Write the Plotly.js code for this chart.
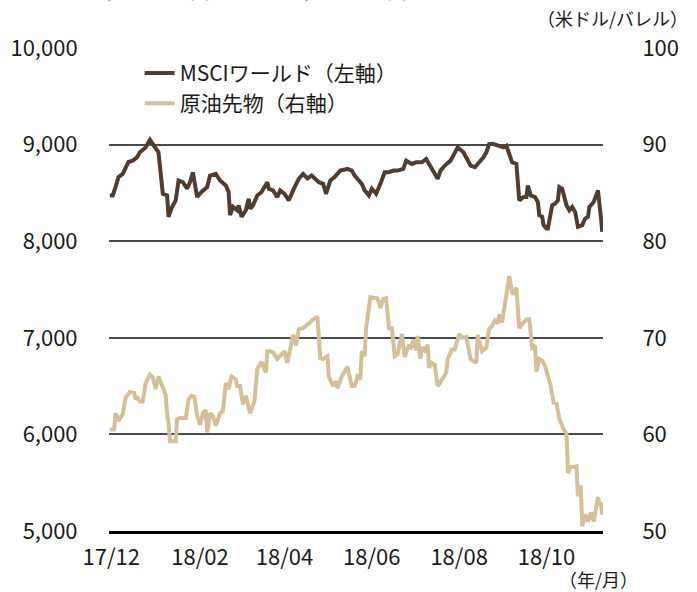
<!DOCTYPE html>
<html>
<head>
<meta charset="utf-8">
<script src="https://cdn.plot.ly/plotly-3.0.1.min.js"></script>
<style>html,body{margin:0;padding:0;background:#fff;}#chart{width:697px;height:592px;}</style>
</head>
<body>
<div id="chart"></div>
<script>
// Day offsets from 2017-12-01
const msciDay = [-1,1,3,5,8,12,15,18,20,24,27,30,33,36,39,40,42,45,47,50,53,55,57,60,63,67,69,73,76,80,82,83,85,88,89,91,94,96,97,99,102,105,109,110,113,116,118,121,124,127,131,134,137,140,145,148,150,153,156,160,165,168,170,173,175,177,180,182,185,188,191,194,197,200,204,206,210,213,217,220,224,228,230,233,237,240,242,246,248,251,254,258,260,262,264,267,270,274,276,278,280,283,285,288,290,291,293,296,298,299,301,302,304,305,308,310,312,313,315,318,320,322,324,326,329,331,333,334,337,340,341,342,343];
const msciVal = [8474,8474,8560,8663,8697,8820,8834,8868,8920,8971,9050,8988,8920,8491,8474,8252,8337,8422,8628,8611,8543,8611,8714,8457,8509,8560,8680,8697,8628,8577,8509,8269,8355,8320,8371,8252,8320,8440,8337,8371,8474,8509,8611,8543,8526,8457,8526,8491,8422,8526,8646,8697,8651,8680,8611,8594,8491,8628,8663,8731,8748,8731,8680,8628,8594,8526,8474,8543,8491,8594,8714,8714,8731,8731,8748,8834,8800,8817,8817,8851,8748,8646,8731,8783,8834,8920,8971,8920,8868,8783,8766,8834,8868,8920,9005,9005,8988,8971,8988,8902,8817,8800,8422,8457,8457,8577,8474,8457,8406,8269,8252,8166,8131,8131,8371,8388,8422,8560,8543,8371,8320,8355,8303,8149,8166,8234,8252,8355,8406,8526,8320,8252,8097];

const oilDay = [-1,2,3,5,8,10,13,16,17,18,20,22,24,27,29,31,33,35,38,39,40,41,43,45,46,48,52,54,56,58,60,62,64,66,67,69,71,73,76,78,80,82,84,87,88,90,92,94,97,100,102,105,108,109,111,113,116,119,121,123,125,127,129,131,134,137,139,141,144,146,148,151,152,155,157,158,160,161,165,168,170,172,174,175,177,178,181,184,186,188,190,192,194,196,198,200,203,205,208,209,211,213,214,216,217,219,221,222,224,226,228,232,234,235,238,240,242,243,245,248,251,253,255,256,258,259,262,264,266,268,270,271,273,274,276,278,280,281,283,285,287,290,292,294,296,297,299,301,303,304,307,309,311,313,316,318,319,321,325,326,328,329,331,333,335,337,338,340,341,342,343];
const oilVal = [60.5,60.5,62.2,61.4,62.1,63.8,64.4,64.3,63.6,63.9,63.4,63.4,65.3,66.2,65.9,64.7,66.0,65.2,64.1,62.2,61.2,59.3,59.3,59.3,61.6,61.7,61.7,63.6,64.0,63.9,61.9,61.0,62.2,62.5,60.2,62.2,61.9,60.9,62.2,62.4,65.3,64.7,66.0,65.7,65.0,65.0,63.1,64.0,62.2,63.4,66.8,67.5,66.4,68.6,68.6,68.5,67.8,68.3,68.6,67.4,69.0,70.3,69.2,70.9,71.0,71.3,71.6,71.9,72.2,67.9,67.8,68.1,66.0,65.0,65.5,64.8,65.5,66.0,67.0,65.0,65.0,66.0,65.7,68.6,68.1,71.0,74.2,74.1,74.1,73.1,74.0,74.1,71.0,71.0,68.1,68.3,70.4,68.0,69.3,68.8,69.8,68.7,70.2,67.8,69.0,68.7,69.3,66.9,67.4,67.2,65.0,65.9,66.4,67.8,68.8,68.8,69.8,70.4,70.0,70.1,67.8,67.6,67.4,70.3,69.3,68.6,69.0,70.9,71.2,71.8,71.5,72.4,71.6,72.6,74.1,76.4,74.7,74.5,75.2,71.0,71.4,71.9,71.9,69.0,69.2,66.5,67.8,67.6,67.1,66.5,65.0,63.3,63.2,61.6,60.5,60.1,56.0,56.6,56.7,53.6,54.7,50.5,51.7,51.0,51.9,51.0,51.7,53.5,52.8,52.8,51.7];

const tickDates = ['2017-12-01','2018-02-01','2018-04-01','2018-06-01','2018-08-01','2018-10-01'];
const tickLabels = ['17/12','18/02','18/04','18/06','18/08','18/10'];
const leftTicks = [5000,6000,7000,8000,9000,10000];
const rightTicks = [50,60,70,80,90,100];

const seriesNames = ['MSCIワールド（左軸）','原油先物（右軸）'];
const titleText = '（2017年12月1日～2018年11月9日）';
const unitRight = '（米ドル/バレル）';
const unitX = '（年/月）';

const base = Date.UTC(2017,11,1);
const toDate = d => new Date(base + d*86400000).toISOString().slice(0,10);

const FONT = '"Noto Sans CJK JP", "Noto Sans", sans-serif';
const TXT = '#1a1a1a';

const traces = [
  {x: msciDay.map(toDate), y: msciVal, type:'scatter', mode:'lines', name: seriesNames[0],
   line:{color:'#513d30', width:4}, yaxis:'y', legendgroup:'a'},
  {x: oilDay.map(toDate), y: oilVal, type:'scatter', mode:'lines', name: seriesNames[1],
   line:{color:'#d4bf9b', width:4}, yaxis:'y2', legendgroup:'b'}
];

const layout = {
  width:697, height:592,
  margin:{l:109, r:94, t:48, b:61},
  paper_bgcolor:'#fff', plot_bgcolor:'#fff',
  font:{family:FONT, size:21, color:TXT},
  showlegend:true,
  legend:{x:0.062, y:0.99, xanchor:'left', yanchor:'top', bgcolor:'rgba(0,0,0,0)',
          font:{family:FONT, size:21, color:TXT}, traceorder:'grouped', tracegroupgap:0},
  xaxis:{type:'date', range:['2017-11-29 10:00','2018-11-09 12:00'],
         tickvals:tickDates, ticktext:tickLabels, showgrid:false, zeroline:false,
         showline:true, linecolor:'#000', linewidth:3,
         ticks:'outside', ticklen:5, tickcolor:'rgba(0,0,0,0)',
         tickfont:{family:FONT, size:22, color:TXT}},
  yaxis:{range:[5000,10000], tickvals:leftTicks, tickformat:',d',
         showgrid:true, gridcolor:'#4a4a4a', gridwidth:2, zeroline:false, showline:false,
         ticks:'outside', ticklen:26, tickcolor:'rgba(0,0,0,0)',
         tickfont:{family:FONT, size:22, color:TXT}},
  yaxis2:{range:[50,100], tickvals:rightTicks, overlaying:'y', side:'right',
          showgrid:false, zeroline:false, showline:false,
          ticks:'outside', ticklen:34, tickcolor:'rgba(0,0,0,0)',
          tickfont:{family:FONT, size:22, color:TXT}},
  annotations:[
    {xref:'paper', yref:'paper', x:1.176, y:1.062, xanchor:'right', yanchor:'middle',
     text:unitRight, showarrow:false, font:{family:FONT, size:18, color:TXT}},
    {xref:'paper', yref:'paper', x:1.075, y:-0.1, xanchor:'right', yanchor:'middle',
     text:unitX, showarrow:false, font:{family:FONT, size:18, color:TXT}},
    {xref:'paper', yref:'paper', x:-0.195, y:1.09, xanchor:'left', yanchor:'bottom',
     yshift:-2, text:titleText, showarrow:false, font:{family:FONT, size:25, color:TXT}}
  ]
};

Plotly.newPlot('chart', traces, layout, {displayModeBar:false, staticPlot:true});
</script>
</body>
</html>
